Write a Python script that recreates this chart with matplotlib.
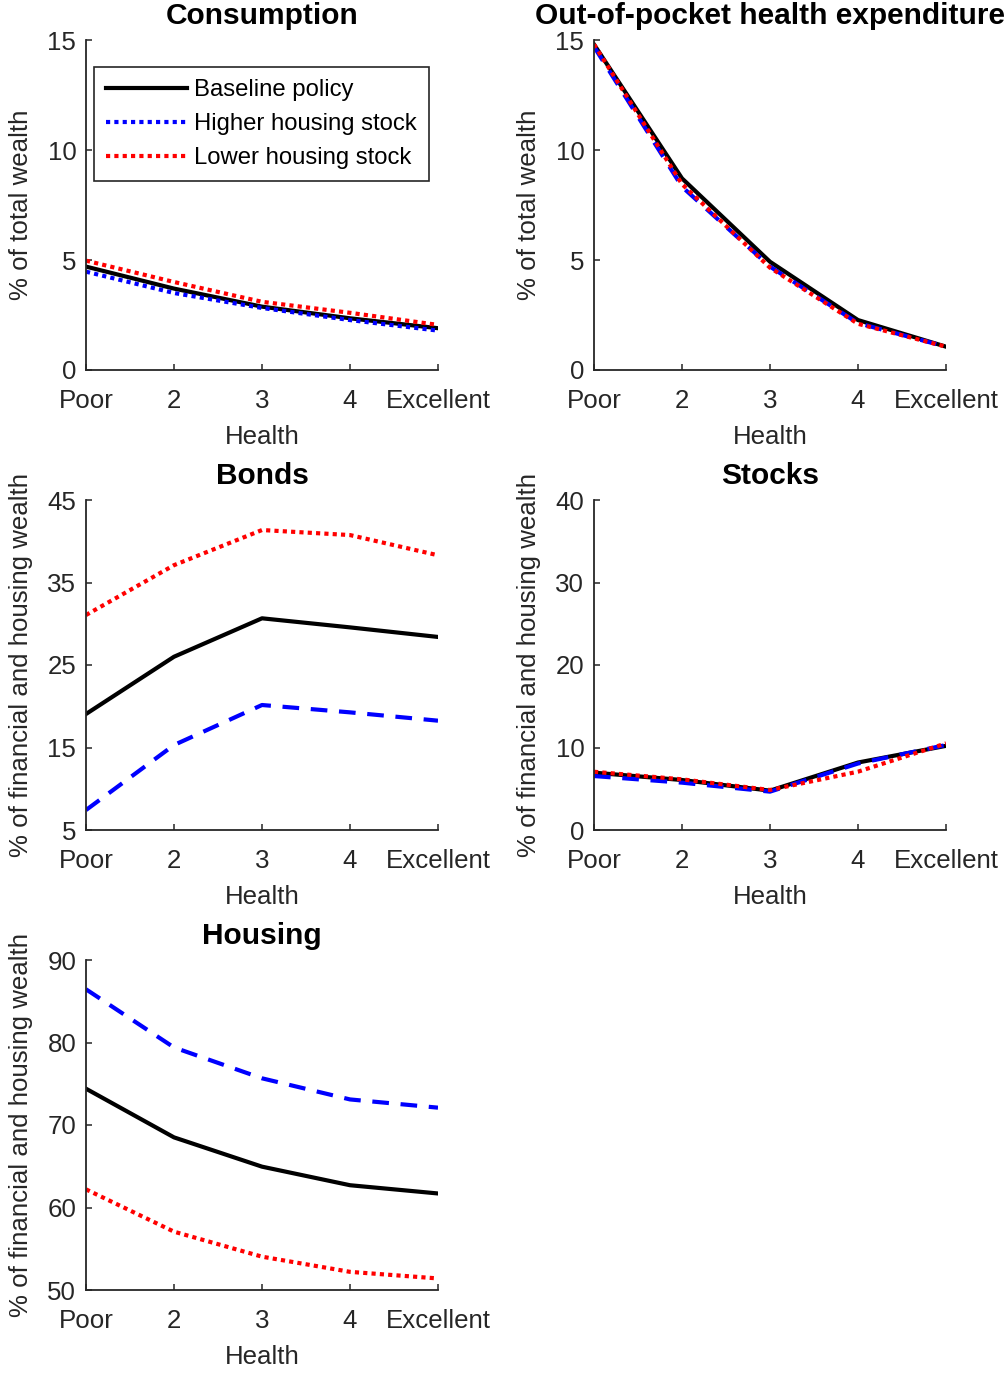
import matplotlib
matplotlib.use("Agg")
import matplotlib.pyplot as plt

plt.rcParams['font.family'] = ['Liberation Sans', 'DejaVu Sans']

health = [1, 2, 3, 4, 5]
health_labels = ["Poor", "2", "3", "4", "Excellent"]
series_names = ["Baseline policy", "Higher housing stock", "Lower housing stock"]

cons_base = [4.70, 3.70, 2.88, 2.35, 1.90]
cons_high = [4.47, 3.50, 2.82, 2.27, 1.79]
cons_low = [4.97, 4.00, 3.10, 2.60, 2.05]

oop_base = [14.80, 8.71, 4.92, 2.27, 1.06]
oop_high = [14.70, 8.33, 4.70, 2.13, 1.06]
oop_low = [14.80, 8.45, 4.65, 2.10, 1.06]

bonds_base = [19.06, 26.0, 30.66, 29.56, 28.4]
bonds_high = [7.42, 15.3, 20.15, 19.26, 18.25]
bonds_low = [31.06, 37.1, 41.36, 40.75, 38.3]

stocks_base = [6.95, 6.06, 4.77, 8.18, 10.2]
stocks_high = [6.54, 5.74, 4.65, 8.06, 10.3]
stocks_low = [7.06, 6.14, 4.85, 7.07, 10.5]

housing_base = [74.4, 68.5, 64.95, 62.7, 61.7]
housing_high = [86.45, 79.4, 75.66, 73.1, 72.1]
housing_low = [62.2, 57.07, 54.04, 52.2, 51.4]

panels = [
    ("Consumption", cons_base, cons_high, cons_low, [0, 5, 10, 15], "% of total wealth", True),
    ("Out-of-pocket health expenditure", oop_base, oop_high, oop_low, [0, 5, 10, 15], "% of total wealth", False),
    ("Bonds", bonds_base, bonds_high, bonds_low, [5, 15, 25, 35, 45], "% of financial and housing wealth", False),
    ("Stocks", stocks_base, stocks_high, stocks_low, [0, 10, 20, 30, 40], "% of financial and housing wealth", False),
    ("Housing", housing_base, housing_high, housing_low, [50, 60, 70, 80, 90], "% of financial and housing wealth", False),
]

W, H = 1007, 1374
fig = plt.figure(figsize=(W / 100, H / 100), dpi=100)

lefts = [86, 594]
tops = [40, 500, 960]
aw, ah = 352, 330
fs = 18.6
gray = (0.15, 0.15, 0.15)
lw = 3.0

for i, (title, base, high, low, yt, ylab, dotted_blue) in enumerate(panels):
    r, c = divmod(i, 2)
    ax = fig.add_axes([lefts[c] / W, 1 - (tops[r] + ah) / H, aw / W, ah / H])
    ax.plot(health, base, color='black', lw=lw, linestyle='-', label=series_names[0])
    if dotted_blue:
        ax.plot(health, high, color='blue', lw=lw, linestyle=(0, (1, 1)), label=series_names[1])
    else:
        ax.plot(health, high, color='blue', lw=lw, linestyle=(0, (4.0, 2.8)), label=series_names[1])
    ax.plot(health, low, color='red', lw=lw, linestyle=(0, (1, 1)), label=series_names[2])
    ax.set_xlim(1, 5)
    ax.set_ylim(yt[0], yt[-1])
    ax.set_yticks(yt)
    ax.set_xticks(health)
    ax.set_xticklabels(health_labels)
    for s in ['top', 'right']:
        ax.spines[s].set_visible(False)
    for s in ['left', 'bottom']:
        ax.spines[s].set_color(gray)
        ax.spines[s].set_linewidth(1.3)
    ax.tick_params(direction='in', length=4, width=1.1, color=gray, labelcolor=gray, labelsize=fs)
    ax.tick_params(axis='x', pad=13.5)
    ax.tick_params(axis='y', pad=7)
    ax.set_title(title, fontsize=21.5, fontweight='bold', pad=11.5, color='black')
    ax.set_xlabel("Health", fontsize=fs, color=gray)
    ax.xaxis.set_label_coords(0.5, -0.166)
    ax.set_ylabel(ylab, fontsize=fs, color=gray)
    ax.yaxis.set_label_coords(-0.15, 0.5)
    if i == 0:
        leg = ax.legend(loc='upper left', bbox_to_anchor=(0.023, 0.918), borderaxespad=0,
                        fontsize=17.2, handlelength=3.4, handletextpad=0.3,
                        labelspacing=0.5, borderpad=0.5,
                        fancybox=False, framealpha=1, edgecolor=gray)
        leg.get_frame().set_linewidth(1.2)
        for t in leg.get_texts():
            t.set_color('black')

fig.savefig("out.png", dpi=100)
